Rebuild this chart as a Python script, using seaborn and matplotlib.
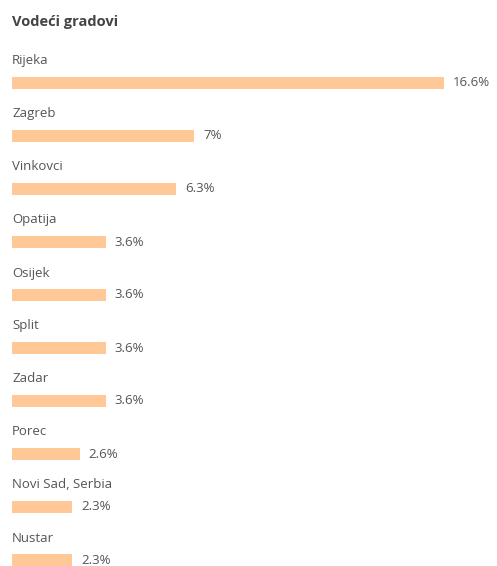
import matplotlib
matplotlib.use("Agg")
import matplotlib.pyplot as plt
import seaborn as sns
import pandas as pd

cities = ["Rijeka", "Zagreb", "Vinkovci", "Opatija", "Osijek", "Split", "Zadar",
          "Porec", "Novi Sad, Serbia", "Nustar"]
values = [16.6, 7, 6.3, 3.6, 3.6, 3.6, 3.6, 2.6, 2.3, 2.3]
value_labels = ["16.6%", "7%", "6.3%", "3.6%", "3.6%", "3.6%", "3.6%", "2.6%", "2.3%", "2.3%"]
title = "Vodeći gradovi"

sns.set_style("white")
plt.rcParams['font.family'] = ['Open Sans', 'DejaVu Sans']

df = pd.DataFrame({"city": cities, "value": values})

W, H = 497, 566
fig = plt.figure(figsize=(W / 100, H / 100), dpi=100)
ax = fig.add_axes([0, 0, 1, 1])

sns.barplot(data=df, y="city", x="value", orient="h", color="#FFC896",
            saturation=1, width=0.24, linewidth=0, ax=ax, order=cities)

x0_px, x1_px = 12, 444
upp = values[0] / (x1_px - x0_px)
ax.set_xlim(-x0_px * upp, (W - x0_px) * upp)
y0_px, step = 83, 53
ax.set_ylim((H - y0_px) / step, -y0_px / step)
ax.axis("off")

text_color = "#555555"
for i, (c, v, lab) in enumerate(zip(cities, values, value_labels)):
    ax.text(0, i - 22 / step, c, ha="left", va="center", fontsize=9.5, color=text_color)
    ax.text(v + 9 * upp, i, lab, ha="left", va="center", fontsize=9.5, color=text_color)

ax.text(0, -61 / step, title, ha="left", va="center", fontsize=10.5, fontweight="bold", color="#444444")

fig.savefig("out.png", dpi=100)
